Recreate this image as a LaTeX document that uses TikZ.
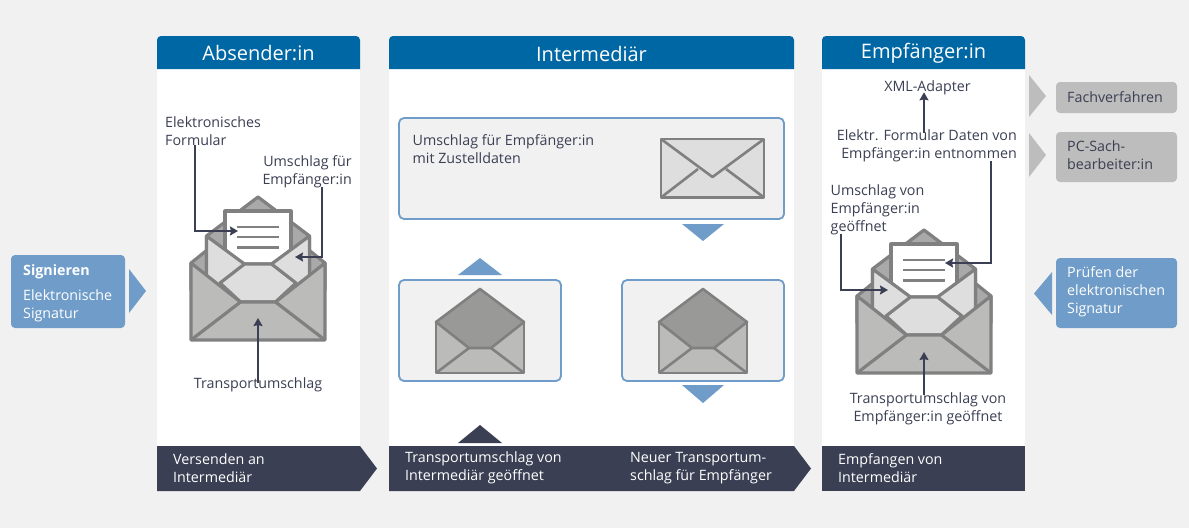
\documentclass[tikz,border=0pt]{standalone}
\usepackage{fontspec}
\setmainfont{Open Sans}
\usetikzlibrary{arrows.meta}
\definecolor{pagegray}{HTML}{F1F1F1}
\definecolor{headblue}{HTML}{0067A5}
\definecolor{softblue}{HTML}{6F9CC8}
\definecolor{inkdark}{HTML}{3A3F53}
\definecolor{sidegray}{HTML}{BDBDBD}
\definecolor{linegray}{HTML}{808080}
\definecolor{flapgray}{HTML}{A9A9A9}
\definecolor{bodygray}{HTML}{BBBBBA}
\definecolor{lightgray}{HTML}{DEDEDE}
\definecolor{deepgray}{HTML}{999998}
\tikzset{
  txt/.style={inner sep=0pt, text=inkdark, align=left, anchor=west,
              font=\fontsize{14.27}{17.8}\selectfont},
  txtc/.style={txt, align=center, anchor=center},
  txtr/.style={txt, align=right, anchor=east},
  whitetxt/.style={txt, text=white},
  headtxt/.style={inner sep=0pt, text=white, font=\fontsize{20}{22}\selectfont},
  sidebox/.style={fill=softblue, rounded corners=4pt},
  graybox/.style={fill=sidegray, rounded corners=4pt},
  stagebox/.style={draw=softblue, line width=1.8pt, fill=pagegray, rounded corners=5pt},
  leader/.style={draw=inkdark, line width=2pt, -{Stealth[length=8pt,width=9pt,inset=1pt]}},
  env/.style={draw=linegray, line width=3.2pt, line join=round},
  envthin/.style={draw=linegray, line width=2.6pt, line join=round},
  pics/fullenvelope/.style={code={
    \path[env, fill=flapgray] (-67,-77) -- (0,-131) -- (67,-77) -- (67,-50) -- (-67,-50) -- cycle;
    \path[env, fill=flapgray] (-51.5,-104) -- (0,-143) -- (51.5,-104) -- (51.5,-70) -- (-51.5,-70) -- cycle;
    \path[env, fill=white] (-33,-129) -- (33,-129) -- (33,-70) -- (-33,-70) -- cycle;
    \path[draw=linegray, line width=2.6pt] (-21,-113) -- (21,-113) (-21,-103) -- (21,-103) (-21,-92.5) -- (21,-92.5);
    \path[env, fill=lightgray] (-51.5,-104) -- (-13.5,-76) -- (13.5,-76) -- (51.5,-104) -- (51.5,-50) -- (-51.5,-50) -- cycle;
    \path[env, fill=lightgray] (-13.5,-76) -- (13.5,-76) -- (38,-57) -- (17.5,-38) -- (-17.5,-38) -- (-38,-57) -- cycle;
    \path[env, fill=bodygray] (-67,-77) -- (-17.5,-38) -- (17.5,-38) -- (67,-77) -- (67,0) -- (-67,0) -- cycle;
    \path[env] (-67,0) -- (-17.5,-38) (17.5,-38) -- (67,0);
  }},
  pics/darkenvelope/.style={code={
    \path[envthin, fill=bodygray] (-44,-51) -- (44,-51) -- (44,0) -- (-44,0) -- cycle;
    \path[envthin] (-44,0) -- (-11,-25) (11,-25) -- (44,0);
    \path[envthin, fill=deepgray] (-44,-51) -- (0,-84) -- (44,-51) -- (11,-25) -- (-11,-25) -- cycle;
  }}
}
\begin{document}
\begin{tikzpicture}[x=1pt, y=-1pt]
  \useasboundingbox[fill=pagegray] (0,0) rectangle (1189,528);
  % columns
  \foreach \xa/\xb/\xm/\ttl/\nm in {157/360/258.5/Absender:in/absender,
                                    389/794/591.5/Intermediär/intermediaer,
                                    822/1025/923.5/Empfänger:in/empfaenger} {
    \fill[white] (\xa,50) rectangle (\xb,470);
    \fill[headblue] (\xa,69) [rounded corners=4pt] -- (\xa,36) -- (\xb,36) [sharp corners] -- (\xb,69) -- cycle;
    \node[headtxt] (\nm) at (\xm,53.5) {\ttl};
  }
  % bottom bars
  \fill[inkdark] (157,446) -- (360,446) -- (377,468.5) -- (360,491) -- (157,491) -- cycle;
  \fill[inkdark] (389,446) -- (794,446) -- (811,468.5) -- (794,491) -- (389,491) -- cycle;
  \fill[inkdark] (822,446) rectangle (1025,491);
  \node[whitetxt] (versenden) at (173,468) {Versenden an\\Intermediär};
  \node[whitetxt] (geoeffnet) at (405,468) {Transportumschlag von\\Intermediär geöffnet};
  \node[whitetxt] (neuer) at (630,468) {Neuer Transportum-\\schlag für Empfänger};
  \node[whitetxt] (empfangen) at (838,468) {Empfangen von\\Intermediär};
  % outside boxes
  \fill[sidebox] (11,255) rectangle (125,328);
  \fill[softblue] (129,269) -- (146,291) -- (129,313) -- cycle;
  \node[whitetxt] (signieren) at (23,272) {\textbf{Signieren}};
  \node[whitetxt] (signatur) at (23,306) {Elektronische\\Signatur};
  \fill[sidegray] (1029,75) -- (1046,96) -- (1029,117) -- cycle;
  \fill[sidegray] (1029,133) -- (1046,155) -- (1029,177) -- cycle;
  \fill[softblue] (1052,272) -- (1034,293.5) -- (1052,315) -- cycle;
  \fill[graybox] (1056,82) rectangle (1177,113);
  \fill[graybox] (1056,132) rectangle (1177,182);
  \fill[sidebox] (1056,258) rectangle (1177,328);
  \node[txt] (fachverfahren) at (1067,97) {Fachverfahren};
  \node[txt] (sachbearbeiter) at (1067,155.5) {PC-Sach-\\bearbeiter:in};
  \node[whitetxt] (pruefen) at (1067,292) {Prüfen der\\elektronischen\\Signatur};
  % sender
  \pic at (258,340) {fullenvelope};
  \node[txt] (lblformular) at (165,131) {Elektronisches\\Formular};
  \node[txtr] (lblumschlag) at (352,172) {Umschlag für\\Empfänger:in};
  \node[txtc] (lbltransport) at (258,385) {Transportumschlag};
  \coordinate (tipformular) at (238,231);
  \coordinate (tipumschlag) at (295,257);
  \coordinate (tiptransport) at (258,318);
  \draw[leader] ([xshift=30pt,yshift=1pt]lblformular.south west) |- (tipformular);
  \draw[leader] ([xshift=-30pt,yshift=1pt]lblumschlag.south east) |- (tipumschlag);
  \draw[leader] ([yshift=-5pt]lbltransport.north) -- (tiptransport);
  % intermediary
  \path[stagebox] (399,118) rectangle (784,219);
  \path[stagebox] (399,280) rectangle (561,381);
  \path[stagebox] (622,280) rectangle (784,381);
  \node[txt] (lblzustell) at (412.5,149) {Umschlag für Empfänger:in\\mit Zustelldaten};
  \path[envthin, fill=lightgray] (661,139) -- (764,139) -- (764,197.5) -- (661,197.5) -- cycle;
  \path[envthin] (661,197.5) -- (698,169) (726,169) -- (764,197.5);
  \path[envthin] (661,139) -- (712.5,177) -- (764,139);
  \pic at (480,373) {darkenvelope};
  \pic at (703,373) {darkenvelope};
  \fill[softblue] (682,224) -- (724,224) -- (703,241) -- cycle;
  \fill[softblue] (458,275) -- (502,275) -- (480,258) -- cycle;
  \fill[softblue] (682,385) -- (724,385) -- (703,403) -- cycle;
  \fill[inkdark] (458,443) -- (502,443) -- (480,425) -- cycle;
  % recipient
  \pic at (924,373) {fullenvelope};
  \node[txtc] (lblxml) at (927.5,88) {XML-Adapter};
  \node[txtr] (lblentnommen) at (1017,146) {Elektr. Formular Daten von\\Empfänger:in entnommen};
  \node[txt] (lbloffen) at (830.5,209.5) {Umschlag von\\Empfänger:in\\geöffnet};
  \node[txtc] (lbltransoffen) at (928,409) {Transportumschlag von\\Empfänger:in geöffnet};
  \coordinate (tipentnommen) at (945,263);
  \coordinate (tipoffen) at (888,290);
  \coordinate (tiptransoffen) at (924,352);
  \draw[leader] ([xshift=-3.5pt,yshift=-3pt]lblentnommen.north -| 927.5,0) -- ([xshift=-3.5pt,yshift=3pt]lblxml.south);
  \draw[leader] ([xshift=-26pt,yshift=1pt]lblentnommen.south east) |- (tipentnommen);
  \draw[leader] ([xshift=10pt,yshift=1pt]lbloffen.south west) |- (tipoffen);
  \draw[leader] ([xshift=-4pt,yshift=-2pt]lbltransoffen.north) -- (tiptransoffen);
\end{tikzpicture}
\end{document}
